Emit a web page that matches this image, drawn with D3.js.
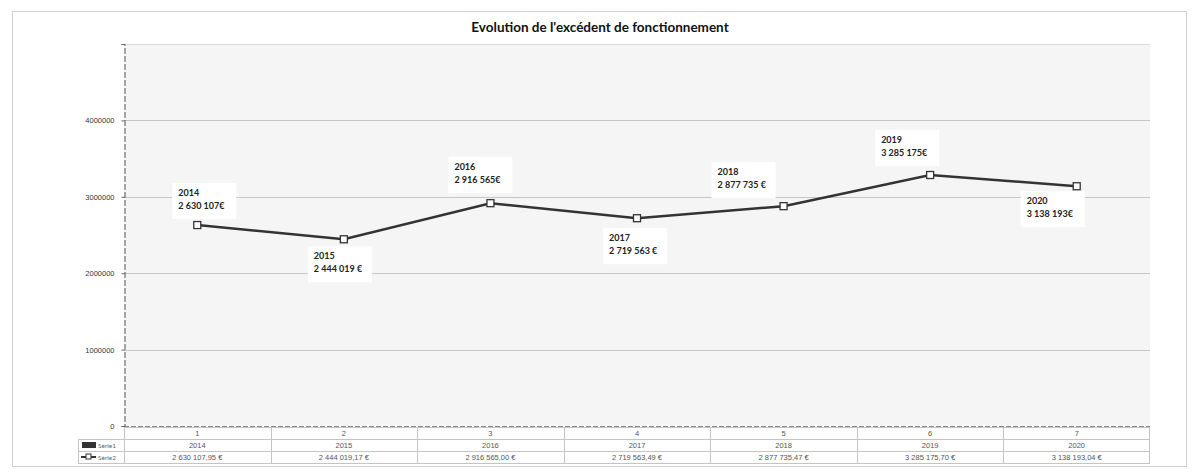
<!DOCTYPE html>
<html>
<head>
<meta charset="utf-8">
<script src="https://cdn.jsdelivr.net/npm/d3@7"></script>
<style>
  body { margin: 0; background: #fff; }
  svg { display: block; font-family: Lato, "Liberation Sans", sans-serif; }
</style>
</head>
<body>
<div id="chart"></div>
<script>
// categories on the x axis (table first row)
var categories = ['1', '2', '3', '4', '5', '6', '7'];
// Série1 = the years, Série2 = the amounts
var years = ['2014', '2015', '2016', '2017', '2018', '2019', '2020'];
var values = [2630107.95, 2444019.17, 2916565.00, 2719563.49, 2877735.47, 3285175.70, 3138193.04];
// what the data labels say, as written on the chart
var labelValues = ['2 630 107€', '2 444 019 €', '2 916 565€', '2 719 563 €', '2 877 735 €', '3 285 175€', '3 138 193€'];
var yTicks = [0, 1000000, 2000000, 3000000, 4000000, 5000000];

// where each data label sits relative to its point (dx, dy of first line)
var labelOffsets = [[-19, -32], [-30, 17], [-36, -36], [-28, 20], [-66, -34], [-49, -35], [-50, 15]];

var width = 1196, height = 473;
var plot = {left: 124, right: 1150, top: 44, bottom: 426};

var svg = d3.select('#chart').append('svg')
  .attr('width', width)
  .attr('height', height);

// outer chart frame
svg.append('rect')
  .attr('x', 12.5).attr('y', 11.5)
  .attr('width', 1174).attr('height', 455)
  .attr('fill', '#fff')
  .attr('stroke', '#cfcfcf');

// title
svg.append('text')
  .attr('x', 600).attr('y', 32)
  .attr('text-anchor', 'middle')
  .attr('font-size', 13.5)
  .attr('font-weight', 'bold')
  .attr('fill', '#111')
  .text("Evolution de l'excédent de fonctionnement");

var x = d3.scaleBand().domain(categories).range([plot.left, plot.right]);
var y = d3.scaleLinear().domain([0, 5000000]).range([plot.bottom, plot.top]);

// plot area
svg.append('rect')
  .attr('x', plot.left).attr('y', plot.top)
  .attr('width', plot.right - plot.left).attr('height', plot.bottom - plot.top)
  .attr('fill', '#f5f5f5');

// gridlines
svg.append('g')
  .selectAll('line')
  .data(yTicks.slice(1))
  .join('line')
  .attr('x1', plot.left).attr('x2', plot.right)
  .attr('y1', function (d) { return Math.round(y(d)) + 0.5; })
  .attr('y2', function (d) { return Math.round(y(d)) + 0.5; })
  .attr('stroke', function (d) { return d == 5000000 ? '#d8d8d8' : '#c6c6c6'; })
  .attr('stroke-width', 1);

// zero line
svg.append('line')
  .attr('x1', plot.left).attr('x2', plot.right)
  .attr('y1', plot.bottom + 0.5).attr('y2', plot.bottom + 0.5)
  .attr('stroke', '#8a8a8a')
  .attr('stroke-dasharray', '5,2');

// y axis
var yAxis = d3.axisLeft(y)
  .tickValues(yTicks)
  .tickSize(3)
  .tickFormat(function (d) { return d == 5000000 ? '' : d3.format('d')(d); });
var ga = svg.append('g')
  .attr('transform', 'translate(' + (plot.left + 0.5) + ',0)')
  .call(yAxis);
ga.select('.domain').attr('stroke', '#555').attr('stroke-dasharray', '6,2');
ga.selectAll('.tick line').attr('stroke', '#666');
ga.selectAll('.tick text')
  .attr('x', -10)
  .attr('font-size', 7.5)
  .attr('font-family', '"Liberation Sans Narrow", "Liberation Sans", sans-serif')
  .attr('fill', '#333');

// the line
var line = d3.line()
  .x(function (d, i) { return x(categories[i]) + x.bandwidth() / 2; })
  .y(function (d) { return y(d); });

svg.append('path')
  .datum(values)
  .attr('d', line)
  .attr('fill', 'none')
  .attr('stroke', '#333')
  .attr('stroke-width', 2.5);

svg.append('g')
  .selectAll('rect')
  .data(values)
  .join('rect')
  .attr('x', function (d, i) { return x(categories[i]) + x.bandwidth() / 2 - 3.5; })
  .attr('y', function (d) { return y(d) - 3.5; })
  .attr('width', 7).attr('height', 7)
  .attr('fill', '#fff')
  .attr('stroke', '#333')
  .attr('stroke-width', 1.3);

// data labels
var labels = svg.append('g')
  .selectAll('g')
  .data(values)
  .join('g')
  .attr('transform', function (d, i) {
    var px = x(categories[i]) + x.bandwidth() / 2;
    return 'translate(' + (px + labelOffsets[i][0]) + ',' + (y(d) + labelOffsets[i][1]) + ')';
  });

labels.append('rect')
  .attr('x', -6).attr('y', -10)
  .attr('width', 64).attr('height', 36)
  .attr('fill', '#fff');

labels.append('text')
  .attr('y', 3)
  .attr('font-size', 9)
  .attr('font-weight', 'bold')
  .attr('fill', '#222')
  .text(function (d, i) { return years[i]; });

labels.append('text')
  .attr('y', 16)
  .attr('font-size', 9)
  .attr('font-weight', 'bold')
  .attr('fill', '#222')
  .text(function (d, i) { return labelValues[i]; });

// data table under the chart
var fr = d3.formatLocale({decimal: ',', thousands: ' ', grouping: [3], currency: ['', ' €']});
var money = fr.format('$,.2f');

var rowTop = [427, 439, 451, 463];
var tableLeft = 78;
var tg = svg.append('g').attr('stroke', '#c4c4c4').attr('fill', 'none');

// horizontal rules
tg.append('line').attr('x1', plot.left).attr('x2', plot.right).attr('y1', rowTop[0] + 0.5).attr('y2', rowTop[0] + 0.5);
[1, 2, 3].forEach(function (r) {
  tg.append('line').attr('x1', tableLeft).attr('x2', plot.right)
    .attr('y1', rowTop[r] + 0.5).attr('y2', rowTop[r] + 0.5);
});
// vertical rules
tg.append('line').attr('x1', tableLeft + 0.5).attr('x2', tableLeft + 0.5).attr('y1', rowTop[1]).attr('y2', rowTop[3]);
tg.selectAll('line.v')
  .data(categories)
  .join('line')
  .attr('class', 'v')
  .attr('x1', function (d) { return Math.round(x(d)) + 0.5; })
  .attr('x2', function (d) { return Math.round(x(d)) + 0.5; })
  .attr('y1', rowTop[0]).attr('y2', rowTop[3]);
tg.append('line').attr('x1', plot.right - 0.5).attr('x2', plot.right - 0.5).attr('y1', rowTop[0]).attr('y2', rowTop[3]);

function rowText(r, arr) {
  svg.append('g')
    .selectAll('text')
    .data(arr)
    .join('text')
    .attr('x', function (d, i) { return x(categories[i]) + x.bandwidth() / 2; })
    .attr('y', rowTop[r] + 9)
    .attr('text-anchor', 'middle')
    .attr('font-size', 7.5)
    .attr('font-family', '"Liberation Sans Narrow", "Liberation Sans", sans-serif')
    .attr('fill', '#555')
    .text(function (d) { return d; });
}
rowText(0, categories);
rowText(1, years);
rowText(2, values.map(function (v) { return money(v); }));

// legend keys in the table
svg.append('rect')
  .attr('x', 82).attr('y', rowTop[1] + 3)
  .attr('width', 14).attr('height', 6)
  .attr('fill', '#333');
svg.append('text')
  .attr('x', 98).attr('y', rowTop[1] + 9)
  .attr('font-size', 6.5).attr('fill', '#666')
  .text('Série1');
svg.append('line')
  .attr('x1', 81).attr('x2', 96)
  .attr('y1', rowTop[2] + 6).attr('y2', rowTop[2] + 6)
  .attr('stroke', '#333').attr('stroke-width', 2);
svg.append('rect')
  .attr('x', 86).attr('y', rowTop[2] + 3)
  .attr('width', 5).attr('height', 5)
  .attr('fill', '#fff').attr('stroke', '#333');
svg.append('text')
  .attr('x', 98).attr('y', rowTop[2] + 9)
  .attr('font-size', 6.5).attr('fill', '#666')
  .text('Série2');
</script>
</body>
</html>
